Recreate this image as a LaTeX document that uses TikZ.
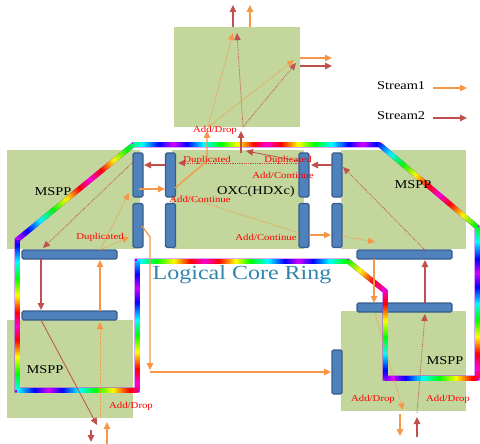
\documentclass[tikz,border=0pt]{standalone}
\usepackage{fontspec}
\setmainfont{Liberation Serif}
\usetikzlibrary{arrows.meta}
\definecolor{grn}{RGB}{195,214,155}
\definecolor{barblue}{RGB}{79,129,189}
\definecolor{bardark}{RGB}{56,93,138}
\definecolor{orng}{RGB}{247,150,70}
\definecolor{rdd}{RGB}{192,80,77}
\definecolor{ringtxt}{RGB}{49,133,170}
\definecolor{ringbase}{RGB}{150,0,255}
\newcommand\wx[1]{\scalebox{1.2}[1]{#1}}
\tikzset{
  greenbox/.style={fill=grn,draw=none},
  barbox/.style={fill=barblue,draw=bardark,line width=1.2pt,rounded corners=1.5pt},
  tip/.style={-{Triangle[length=7pt,width=6.5pt]}},
  sone/.style={tip,draw=orng,line width=1.3pt},
  stwo/.style={tip,draw=rdd,line width=1.3pt},
  sonedot/.style={-{Triangle[length=7pt,width=6.5pt,line width=0pt,fill=orng]},draw=orng,line width=0.8pt,densely dotted},
  stwodot/.style={-{Triangle[length=7pt,width=6.5pt,line width=0pt,fill=rdd]},draw=rdd,line width=0.8pt,densely dotted},
  lab/.style={text=red,font=\fontsize{9}{10}\selectfont,inner sep=0pt},
  bigl/.style={text=black,font=\fontsize{12}{13}\selectfont,inner sep=0pt},
}
\begin{document}
\begin{tikzpicture}[x=1pt,y=-1pt]
\useasboundingbox (0,0) rectangle (480,444);
% green boxes
\fill[greenbox] (174,27) rectangle (300,127);
\fill[greenbox] (7,150) rectangle (140,249);
\fill[greenbox] (172,150) rectangle (304,249);
\fill[greenbox] (341,150) rectangle (466,249);
\fill[greenbox] (7,320) rectangle (133,418);
\fill[greenbox] (341,311) rectangle (466,411);
% blue bars
\node[barbox,minimum width=10pt,minimum height=44pt,inner sep=0pt] (b1) at (138,175) {};
\node[barbox,minimum width=10pt,minimum height=44pt,inner sep=0pt] (b2) at (170.5,175) {};
\node[barbox,minimum width=10pt,minimum height=44pt,inner sep=0pt] (b3) at (138,225.5) {};
\node[barbox,minimum width=10pt,minimum height=44pt,inner sep=0pt] (b4) at (170.5,225.5) {};
\node[barbox,minimum width=10pt,minimum height=44pt,inner sep=0pt] (b5) at (304,175) {};
\node[barbox,minimum width=10pt,minimum height=44pt,inner sep=0pt] (b6) at (337,175) {};
\node[barbox,minimum width=10pt,minimum height=44pt,inner sep=0pt] (b7) at (304,225.5) {};
\node[barbox,minimum width=10pt,minimum height=44pt,inner sep=0pt] (b8) at (337,225.5) {};
\node[barbox,minimum width=95pt,minimum height=9pt,inner sep=0pt] (h1) at (69.5,254.5) {};
\node[barbox,minimum width=95pt,minimum height=9pt,inner sep=0pt] (h2) at (69.5,315.5) {};
\node[barbox,minimum width=95pt,minimum height=9pt,inner sep=0pt] (h3) at (404.5,254.5) {};
\node[barbox,minimum width=95pt,minimum height=9pt,inner sep=0pt] (h4) at (404.5,307.5) {};
\node[barbox,minimum width=10pt,minimum height=44pt,inner sep=0pt] (v9) at (337,372) {};
% rainbow ring
\draw[line width=5pt,ringbase,line join=miter]
  (17,240) -- (133,145) -- (380,145) -- (477,227) -- (477,378) -- (385,378) -- (385,291)
  -- (348,261) -- (137,261) -- (137,390) -- (17,390) -- cycle;
\gdef\rbCum{0}
\foreach \xa/\ya/\xb/\yb in {17/240/133/145, 133/145/380/145, 380/145/477/227, 477/227/477/378, 477/378/385/378, 385/378/385/291, 385/291/348/261, 348/261/137/261, 137/261/137/390, 137/390/17/390, 17/390/17/240}{
  \pgfmathsetmacro\rbLen{veclen(\xb-\xa,\yb-\ya)}
  \pgfmathtruncatemacro\rbN{max(1,round(\rbLen/2))}
  \foreach \i in {1,...,\rbN}{
    \pgfmathsetmacro\rbTa{(\i-1)/\rbN}
    \pgfmathsetmacro\rbTb{\i/\rbN}
    \pgfmathsetmacro\rbS{(\rbCum+\rbLen*(\rbTa+\rbTb)/2)/190}
    \pgfmathsetmacro\rbU{\rbS-floor(\rbS)}
    \pgfmathsetmacro\rbTri{1-abs(2*\rbU-1)}
    \pgfmathsetmacro\rbH{290-340*\rbTri}
    \pgfmathsetmacro\rbHH{\rbH<0 ? \rbH+360 : \rbH}
    \definecolor{rbc}{Hsb}{\rbHH,1,1}
    \draw[rbc,line width=5pt] ({\xa+(\xb-\xa)*\rbTa},{\ya+(\yb-\ya)*\rbTa}) -- ({\xa+(\xb-\xa)*\rbTb},{\ya+(\yb-\ya)*\rbTb});
  }
  \pgfmathsetmacro\rbNew{\rbCum+\rbLen}
  \global\let\rbCum\rbNew
}
% coordinates for connectors
\coordinate (ta) at (208,127);
\coordinate (tb) at (243,127);
\coordinate (tt1) at (233,33);
\coordinate (tt2) at (237,33);
\coordinate (tr1) at (294,60);
\coordinate (tr2) at (296,63);
% stream 2 (red)
\draw[stwo] (417,437) -- (417,417);
\draw[stwodot] (417,413) -- (425,314);
\draw[stwo] (425,303) -- (425,260);
\draw[stwodot] (425,250) -- (343,167);
\draw[stwo] (332,165) -- (311,165);
\draw[stwodot] (299,163) -- (178,163);
\draw[tip,draw=rdd,line width=0.8pt] (299,161) -- (246,151);
\draw[stwo] (241,153) -- (241,131);
\draw[stwodot] (tb) -- (tt2);
\draw[stwodot] (tb) -- (tr2);
\draw[stwo] (233,27) -- (233,5);
\draw[stwo] (300,66) -- (332,66);
\draw[stwo] (165,165) -- (144,165);
\draw[stwodot] (133,162) -- (43,248);
\draw[stwo] (41,259) -- (41,310);
\draw[tip,draw=rdd,line width=0.8pt] (41,320) -- (97,425);
\draw[stwo] (91,430) -- (91,442);
% stream 1 (orange)
\draw[sone] (107,444) -- (107,422);
\draw[sonedot] (100,418) -- (100,322);
\draw[sone] (100,311) -- (100,260);
\draw[sonedot] (100,250) -- (129,193);
\draw[sonedot] (100,250) -- (129,237);
\draw[sone] (139,189) -- (165,189);
\draw[sone] (175,188) -- (207,161) -- (207,131);
\draw[sonedot] (ta) -- (tt1);
\draw[sonedot] (ta) -- (tr1);
\draw[sone] (250,27) -- (250,5);
\draw[sone] (300,58) -- (332,58);
\draw[draw=orng,line width=0.8pt,densely dotted] (180,195) -- (299,233);
\draw[sone] (309,235) -- (331,235);
\draw[sonedot] (342,236) -- (375,242);
\draw[sone] (374,259) -- (374,303);
\draw[sonedot] (375,313) -- (403,410);
\draw[sone] (400,414) -- (400,436);
\draw[sone] (142,226) -- (150,237) -- (150,370);
\draw[sone] (150,372) -- (331,372);
% legend
\node[bigl,anchor=west] (st1) at (377,86) {\wx{Stream1}};
\node[bigl,anchor=west] (st2) at (377,116) {\wx{Stream2}};
\draw[sone] (433,88) -- (467,88);
\draw[stwo] (433,118) -- (467,118);
% labels
\node[bigl] (m1) at (53,192) {\wx{MSPP}};
\node[bigl] (m2) at (413,185) {\wx{MSPP}};
\node[bigl] (m3) at (45,370) {\wx{MSPP}};
\node[bigl] (m4) at (445,361) {\wx{MSPP}};
\node[bigl] (oxc) at (256,192) {\wx{OXC(HDXc)}};
\node[text=ringtxt,font=\fontsize{20}{22}\selectfont,inner sep=0pt] (lcr) at (242,275) {\wx{Logical Core Ring}};
\node[lab] (l1) at (215,130) {\wx{Add/Drop}};
\node[lab] (l2) at (207,160) {\wx{Duplicated}};
\node[lab] (l3) at (288,160) {\wx{Duplicated}};
\node[lab] (l4) at (200,199) {\wx{Add/Continue}};
\node[lab] (l5) at (283,175) {\wx{Add/Continue}};
\node[lab] (l6) at (266,237) {\wx{Add/Continue}};
\node[lab] (l7) at (100,237) {\wx{Duplicated}};
\node[lab] (l8) at (131,406) {\wx{Add/Drop}};
\node[lab] (l9) at (373,399) {\wx{Add/Drop}};
\node[lab] (l10) at (448,399) {\wx{Add/Drop}};
\end{tikzpicture}
\end{document}
